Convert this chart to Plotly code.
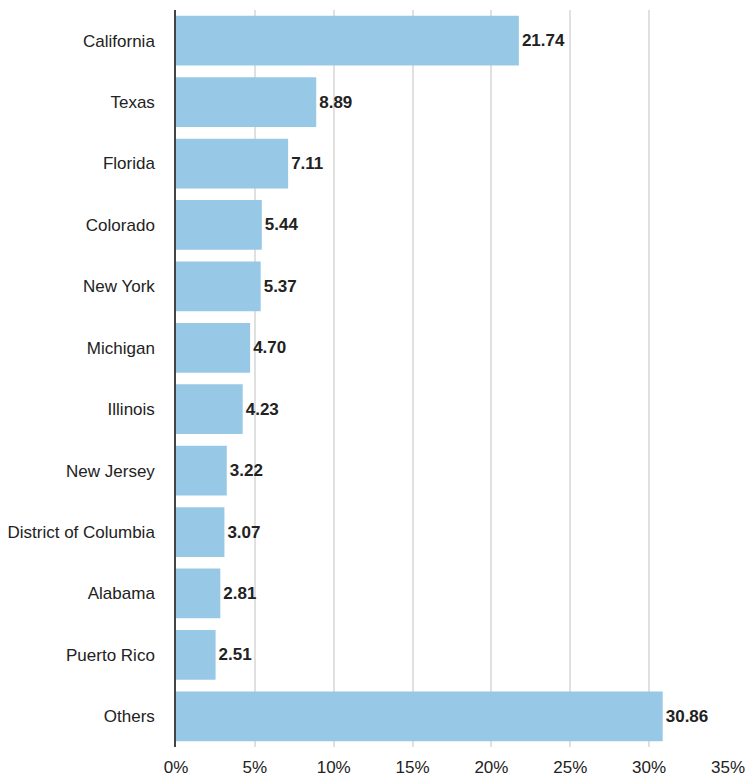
import plotly.graph_objects as go

categories = ["California", "Texas", "Florida", "Colorado", "New York", "Michigan",
              "Illinois", "New Jersey", "District of Columbia", "Alabama", "Puerto Rico", "Others"]
values = [21.74, 8.89, 7.11, 5.44, 5.37, 4.70, 4.23, 3.22, 3.07, 2.81, 2.51, 30.86]
tick_vals = [0, 5, 10, 15, 20, 25, 30, 35]

FONT = "Liberation Sans, Arial, sans-serif"

fig = go.Figure(go.Bar(
    x=values,
    y=categories,
    orientation="h",
    marker=dict(color="#97c9e7", line=dict(width=0)),
    text=[f"<b>{v:.2f}</b>" for v in values],
    textposition="outside",
    textfont=dict(family=FONT, size=17, color="#222222"),
    cliponaxis=False,
))

fig.update_layout(
    width=746, height=776,
    margin=dict(l=176, r=18, t=10, b=29),
    paper_bgcolor="white", plot_bgcolor="white",
    bargap=0.19,
    showlegend=False,
    font=dict(family=FONT, size=17, color="#222222"),
    xaxis=dict(
        range=[0, 35], tickvals=tick_vals, ticktext=[f"{t}%" for t in tick_vals],
        showgrid=True, gridcolor="#e0e0e0", gridwidth=1.5,
        zeroline=False, showline=False, ticks="", automargin=False,
        ticklabelstandoff=8,
        tickfont=dict(family=FONT, size=17, color="#222222"),
    ),
    yaxis=dict(
        autorange="reversed", showgrid=False, zeroline=False,
        showline=True, linecolor="#444444", linewidth=1.5,
        ticks="", ticklabelstandoff=16, automargin=False,
        tickfont=dict(family=FONT, size=17, color="#222222"),
    ),
)

fig.write_html("out.html")
